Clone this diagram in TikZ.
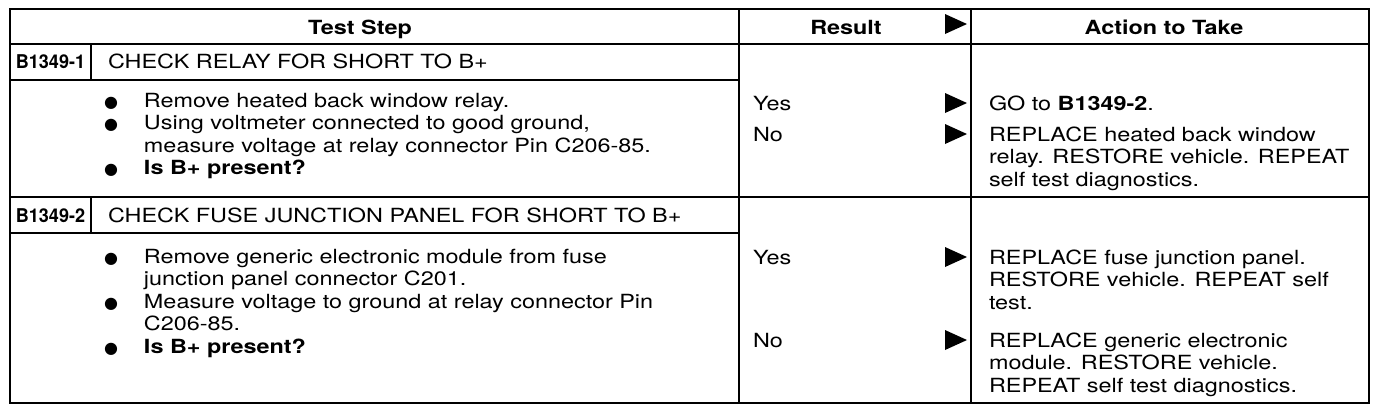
\documentclass[tikz,border=0pt]{standalone}
\usepackage{fontspec}
\setmainfont{TeX Gyre Heros}[FakeStretch=1.2]
\newfontfamily\labelfont{TeX Gyre Heros}[FakeStretch=0.95]
\newfontfamily\dotfont{DejaVu Sans}
\newcommand{\bul}{\makebox[20pt][l]{\dotfont\fontsize{8}{8}\selectfont ●}}
\newcommand{\cont}{\hspace*{20pt}}
\newcommand{\lines}[1]{\begin{tabular}[t]{@{}l@{}}#1\end{tabular}}
\tikzset{
  txt/.style={anchor=base west, inner sep=0pt, font=\fontsize{9.75}{11.25}\selectfont},
  head/.style={anchor=base, inner sep=0pt, font=\fontsize{9.75}{11.25}\selectfont\bfseries},
  steplabel/.style={anchor=base, inner sep=0pt, font=\labelfont\fontsize{9.5}{10}\selectfont\bfseries},
  resarrow/.pic={\fill (-22,-10) -- (0,0) -- (-22,10) -- cycle;},
}
\begin{document}
\begin{tikzpicture}[x=0.5pt,y=0.5pt,yscale=-1,xscale=1,line width=1pt]
        \fill[white] (0,0) rectangle (1376,414);
        \useasboundingbox (0,0) rectangle (1376,414);
        %Shape: Rectangle
        \draw (10,9) rectangle (1369,403);
        %Straight Lines
        \draw (10,44) -- (1369,44);
        \draw (10,197) -- (1369,197);
        \draw (739,9) -- (739,403);
        \draw (971,9) -- (971,403);
        %Straight Lines
        \draw (10,80) -- (739,80);
        \draw (91,44) -- (91,80);
        \draw (10,233) -- (739,233);
        \draw (91,197) -- (91,233);

        % Text Node
        \draw (360,34) node [head] (hdstep) {Test Step};
        % Text Node
        \draw (846,34) node [head] (hdresult) {Result};
        % Text Node
        \draw (1164,34) node [head] (hdaction) {Action to Take};
        \pic at (967,24) {resarrow};

        % Text Node
        \draw (50.5,68) node [steplabel] (lab1) {B1349-1};
        % Text Node
        \draw (107,68) node [txt] (chk1) {CHECK RELAY FOR SHORT TO B+};
        % Text Node
        \draw (103,107) node [txt] (steps1) {\lines{\bul Remove heated back window relay.\\
          \bul Using voltmeter connected to good ground,\\
          \cont measure voltage at relay connector Pin C206-85.\\
          \bul \textbf{Is B+ present?}}};
        % Text Node
        \draw (752,110) node [txt] (yes1) {Yes};
        % Text Node
        \draw (752,141) node [txt] (no1) {No};
        \pic at (967,103) {resarrow};
        \pic at (967,134) {resarrow};
        % Text Node
        \draw (988,110) node [txt] (act1a) {GO to \textbf{B1349-2}.};
        % Text Node
        \draw (988,141) node [txt] (act1b) {\lines{REPLACE heated back window\\
          relay. RESTORE vehicle. REPEAT\\
          self test diagnostics.}};

        % Text Node
        \draw (50.5,222) node [steplabel] (lab2) {B1349-2};
        % Text Node
        \draw (107,222) node [txt] (chk2) {CHECK FUSE JUNCTION PANEL FOR SHORT TO B+};
        % Text Node
        \draw (103,263) node [txt] (steps2) {\lines{\bul Remove generic electronic module from fuse\\
          \cont junction panel connector C201.\\
          \bul Measure voltage to ground at relay connector Pin\\
          \cont C206-85.\\
          \bul \textbf{Is B+ present?}}};
        % Text Node
        \draw (752,264) node [txt] (yes2) {Yes};
        % Text Node
        \draw (752,347) node [txt] (no2) {No};
        \pic at (967,257) {resarrow};
        \pic at (967,340) {resarrow};
        % Text Node
        \draw (988,264) node [txt] (act2a) {\lines{REPLACE fuse junction panel.\\
          RESTORE vehicle. REPEAT self\\
          test.}};
        % Text Node
        \draw (988,347) node [txt] (act2b) {\lines{REPLACE generic electronic\\
          module. RESTORE vehicle.\\
          REPEAT self test diagnostics.}};
\end{tikzpicture}
\end{document}
